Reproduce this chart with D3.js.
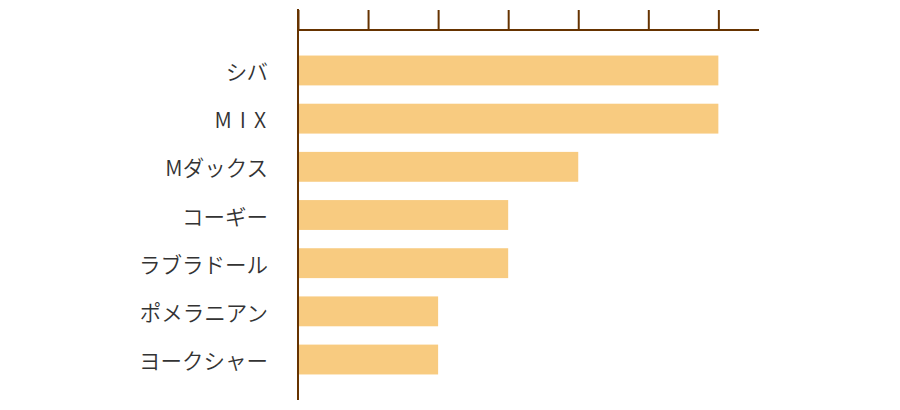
<!DOCTYPE html>
<html>
<head>
<meta charset="utf-8">
<script src="https://cdn.jsdelivr.net/npm/d3@7"></script>
<style>
  body { margin: 0; background: #fff; }
  svg { display: block; }
  .label { font-family: "Noto Sans CJK JP", sans-serif; font-size: 21.5px; font-weight: 350; fill: #333; }
</style>
</head>
<body>
<svg id="chart" width="900" height="410"></svg>
<script>
const breeds = ['シバ', 'MIX', 'Mダックス', 'コーギー', 'ラブラドール', 'ポメラニアン', 'ヨークシャー'];
const counts = [6, 6, 4, 3, 3, 2, 2];
const tickValues = [0, 1, 2, 3, 4, 5, 6];
const xMax = 6.58;

const axisColor = '#663300';
const barColor = '#f8cb80';

const svg = d3.select('#chart');
const plotLeft = 298, plotRight = 759, plotTop = 30, plotBottom = 400;

const x = d3.scaleLinear().domain([0, xMax]).range([plotLeft, plotRight]);
const y = d3.scaleBand()
  .domain(breeds)
  .range([plotTop, plotBottom])
  .paddingInner(0.38)
  .paddingOuter(0.53);

// bars
svg.selectAll('rect.bar')
  .data(breeds)
  .enter()
  .append('rect')
  .attr('class', 'bar')
  .attr('x', x(0))
  .attr('y', d => y(d))
  .attr('width', (d, i) => x(counts[i]) - x(0))
  .attr('height', y.bandwidth())
  .attr('fill', barColor);

// top axis, no labels
const axisTop = d3.axisTop(x)
  .tickValues(tickValues)
  .tickSize(20)
  .tickFormat('');

const gx = svg.append('g')
  .attr('transform', `translate(0,${plotTop})`)
  .call(axisTop);
gx.select('.domain')
  .attr('stroke', axisColor)
  .attr('stroke-width', 2)
  .attr('d', `M${plotLeft},0H${plotRight}`);
gx.selectAll('.tick line')
  .attr('stroke', axisColor)
  .attr('stroke-width', 2);

// vertical axis line
svg.append('line')
  .attr('x1', plotLeft).attr('x2', plotLeft)
  .attr('y1', plotTop - 21).attr('y2', plotBottom)
  .attr('stroke', axisColor)
  .attr('stroke-width', 2);

// category labels (latin-only names are spaced out like the original)
const latinOnly = d => /^[A-Z]+$/.test(d);
svg.selectAll('text.label')
  .data(breeds)
  .enter()
  .append('text')
  .attr('class', 'label')
  .attr('x', d => latinOnly(d) ? 274 : 268)
  .attr('y', d => y(d) + y.bandwidth() / 2)
  .attr('text-anchor', 'end')
  .attr('dominant-baseline', 'central')
  .style('letter-spacing', d => latinOnly(d) ? '8px' : null)
  .text(d => d);
</script>
</body>
</html>
